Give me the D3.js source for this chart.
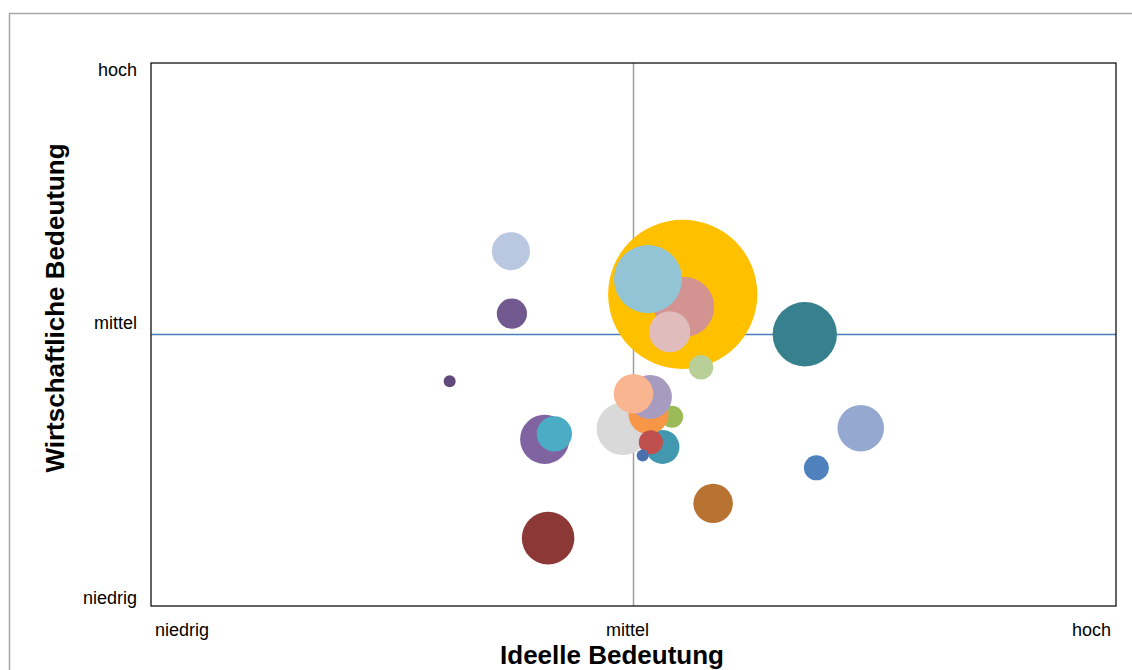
<!DOCTYPE html>
<html>
<head>
<meta charset="utf-8">
<script src="https://cdn.jsdelivr.net/npm/d3@7"></script>
<style>
	body{margin:0;background:#fff;}
	svg{display:block;font-family:Arial,"Liberation Sans",sans-serif;}
</style>
</head>
<body>
<div id="chart"></div>
<script>

// ideelle bedeutung (x) 0=niedrig, 1=mittel, 2=hoch
var ideell = [0.978,0.816,0.836,0.823,1.165,0.746,0.748,0.619,1.355,1.471,1.379,1.102,1.105,1.030,1.075,1.140,1.060,1.080,1.031,1.034,1.000,1.036,1.019];

// wirtschaftliche bedeutung (y)
var wirtschaftlich = [0.653,0.614,0.634,0.250,0.378,1.307,1.077,0.828,1.001,0.655,0.509,1.148,1.101,1.204,1.010,0.879,0.586,0.697,0.707,0.770,0.782,0.603,0.554];

// bubble size (area)
var groesse = [12.4,10.9,5.6,12.4,7.0,6.5,4.1,0.65,18.6,9.7,2.8,100,16.2,20.8,7.6,2.7,5.2,2.2,7.2,8.7,7.0,2.6,0.65];

var farben = ["#D9D9D9","#8064A2","#4BACC6","#8C3836","#B87333","#B9C7E0","#71588F","#604A7B","#37818F","#95A9D0","#4F81BD","#FFC000","#D39391","#93C4D6","#E0BCBC","#B9CF98","#4198AF","#9BBB59","#F79646","#A79BC0","#F9B590","#C0504D","#4A6FAD"];

var achsenLabels = ["niedrig","mittel","hoch"];


var WIDTH=1132, HEIGHT=670;
var PLOT_LEFT=151, PLOT_RIGHT=1116, PLOT_TOP=63, PLOT_BOTTOM=606;
var MAX_RADIUS=74.6;

var svg = d3.select("#chart").append("svg")
	.attr("width",WIDTH)
	.attr("height",HEIGHT);

// outer chart frame
svg.append("rect")
	.attr("x",9.5).attr("y",13.5)
	.attr("width",WIDTH+10).attr("height",HEIGHT+10)
	.style("fill","none")
	.style("stroke","#a6a6a6")
	.style("stroke-width",1.5);

var x = d3.scaleLinear().domain([0,2]).range([PLOT_LEFT,PLOT_RIGHT]);
var y = d3.scaleLinear().domain([0,2]).range([PLOT_BOTTOM,PLOT_TOP]);
var r = d3.scaleSqrt().domain([0,d3.max(groesse)]).range([0,MAX_RADIUS]);

// cross lines at "mittel"
svg.append("line")
	.attr("x1",x(1)).attr("x2",x(1))
	.attr("y1",y(2)).attr("y2",y(0))
	.style("stroke","#a0a0a0")
	.style("stroke-width",1.5);

svg.append("line")
	.attr("x1",x(0)).attr("x2",x(2))
	.attr("y1",y(1)).attr("y2",y(1))
	.style("stroke","#4a7ebb")
	.style("stroke-width",1.3);

// bubbles (drawn in series order)
var bubbles = d3.range(ideell.length).map(function(i){
	return {"x":ideell[i],"y":wirtschaftlich[i],"size":groesse[i],"color":farben[i]};
});

svg.append("g").attr("id","bubbles")
	.selectAll("circle")
	.data(bubbles)
	.enter()
	.append("circle")
		.attr("cx",function(d){return x(d.x);})
		.attr("cy",function(d){return y(d.y);})
		.attr("r",function(d){return r(d.size);})
		.style("fill",function(d){return d.color;});

// plot area border on top
svg.append("rect")
	.attr("x",x(0)).attr("y",y(2))
	.attr("width",x(2)-x(0)).attr("height",y(0)-y(2))
	.style("fill","none")
	.style("stroke","#111")
	.style("stroke-width",1.3);

// y labels (right aligned, nudged inside the range)
var yOffsets = [-2,-6,13];
svg.selectAll(".ylabel")
	.data(achsenLabels)
	.enter()
	.append("text")
		.attr("class","ylabel")
		.attr("x",137)
		.attr("y",function(d,i){return y(i)+yOffsets[i];})
		.attr("text-anchor","end")
		.style("font-size","18px")
		.style("fill","#000")
		.text(function(d){return d;});

// x labels
var xAnchors = ["start","middle","end"];
var xOffsets = [4,-6,-5];
svg.selectAll(".xlabel")
	.data(achsenLabels)
	.enter()
	.append("text")
		.attr("class","xlabel")
		.attr("x",function(d,i){return x(i)+xOffsets[i];})
		.attr("y",636)
		.attr("text-anchor",function(d,i){return xAnchors[i];})
		.style("font-size","18px")
		.style("fill","#000")
		.text(function(d){return d;});

// axis titles
svg.append("text")
	.attr("x",612).attr("y",664)
	.attr("text-anchor","middle")
	.style("font-size","26px")
	.style("font-weight","bold")
	.text("Ideelle Bedeutung");

svg.append("text")
	.attr("transform","translate(64,308) rotate(-90)")
	.attr("text-anchor","middle")
	.style("font-size","26px")
	.style("font-weight","bold")
	.text("Wirtschaftliche Bedeutung");

</script>
</body>
</html>
